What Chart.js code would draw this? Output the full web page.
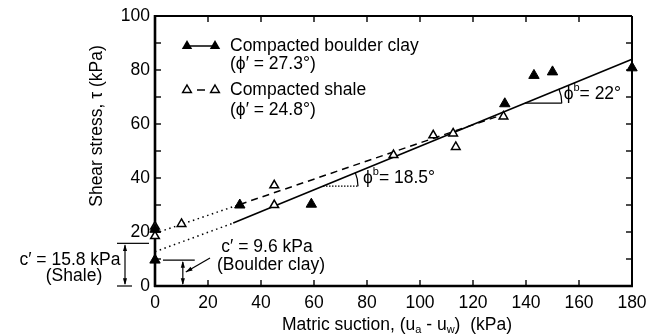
<!DOCTYPE html>
<html>
<head>
<meta charset="utf-8">
<script src="https://cdn.jsdelivr.net/npm/chart.js@4.4.1/dist/chart.umd.min.js"></script>
<style>
  html, body { margin: 0; padding: 0; background: #fff; }
</style>
</head>
<body>
<canvas id="shear-chart" width="662" height="336"></canvas>
<script>
const boulderSuction = [0, 0, 32, 59, 132, 143, 150, 180];
const boulderStress  = [9.6, 21, 30, 30.3, 67.5, 78, 79.3, 80.8];
const shaleSuction = [0, 0, 10, 45, 45, 90, 105, 112.5, 113.5, 131.5];
const shaleStress  = [18.5, 22, 23, 37.3, 30, 48.5, 55.8, 56.5, 51.5, 62.8];

// failure envelopes: first segment is the dotted extension to the axis
const boulderFitSuction = [0, 29.5, 180];
const boulderFitStress  = [12.7, 23.3, 84];
const shaleFitSuction = [0, 32, 131];
const shaleFitStress  = [19.5, 30.2, 63.4];

const xTicks = [0, 20, 40, 60, 80, 100, 120, 140, 160, 180];
const yTicks = [0, 20, 40, 60, 80, 100];
const yMinorTicks = [10, 30, 50, 70, 90];

const FONT = "'Liberation Sans', Arial, sans-serif";
const PHI = '\u03D5';
const toXY = (xs, ys) => xs.map((x, i) => ({ x: x, y: ys[i] }));

function richText(ctx, parts, x, y, align) {
  let total = 0;
  parts.forEach(p => {
    ctx.font = (p.s ? 11 : 17.5) + 'px ' + FONT;
    p.w = ctx.measureText(p.t).width;
    total += p.w;
  });
  let cx = align === 'center' ? x - total / 2 : x;
  ctx.textAlign = 'left';
  ctx.textBaseline = 'middle';
  parts.forEach(p => {
    ctx.font = (p.s ? 11 : 17.5) + 'px ' + FONT;
    const dy = p.s === 'sup' ? -6 : (p.s === 'sub' ? 5 : 0);
    ctx.fillText(p.t, cx, y + dy);
    cx += p.w;
  });
}

function arrowHead(ctx, x, y, ang) {
  const len = 7, spread = 0.3;
  ctx.beginPath();
  ctx.moveTo(x, y);
  ctx.lineTo(x - len * Math.cos(ang - spread), y - len * Math.sin(ang - spread));
  ctx.lineTo(x - len * Math.cos(ang + spread), y - len * Math.sin(ang + spread));
  ctx.closePath();
  ctx.fill();
}

function triangle(ctx, x, y, r, filled) {
  ctx.beginPath();
  ctx.moveTo(x, y - r);
  ctx.lineTo(x + r * 0.866, y + r * 0.5);
  ctx.lineTo(x - r * 0.866, y + r * 0.5);
  ctx.closePath();
  if (filled) ctx.fill();
  else { ctx.fillStyle = '#fff'; ctx.fill(); ctx.fillStyle = '#000'; ctx.stroke(); }
}

function line(ctx, x1, y1, x2, y2) {
  ctx.beginPath();
  ctx.moveTo(x1, y1);
  ctx.lineTo(x2, y2);
  ctx.stroke();
}

// y on the boulder clay envelope at a given suction
function boulderAt(v) {
  const i = v < boulderFitSuction[1] ? 0 : 1;
  const x0 = boulderFitSuction[i], x1 = boulderFitSuction[i + 1];
  const y0 = boulderFitStress[i], y1 = boulderFitStress[i + 1];
  return y0 + (v - x0) * (y1 - y0) / (x1 - x0);
}

const framePlugin = {
  id: 'frame',
  beforeDatasetsDraw(chart) {
    const ctx = chart.ctx;
    const { left, right, top, bottom } = chart.chartArea;
    const xs = chart.scales.x, ys = chart.scales.y;
    ctx.save();
    ctx.strokeStyle = '#000';
    ctx.lineWidth = 2;
    line(ctx, left, top, right, top);
    line(ctx, right, top, right, bottom);
    ctx.lineWidth = 2.6;
    line(ctx, left, top - 1, left, bottom + 1);
    line(ctx, left - 1, bottom, right + 1, bottom);
    ctx.lineWidth = 1.4;
    yTicks.concat(yMinorTicks).forEach(v => {
      const py = ys.getPixelForValue(v);
      line(ctx, left, py, left + 6, py);
      line(ctx, right, py, right - 6, py);
    });
    xTicks.forEach(v => {
      const px = xs.getPixelForValue(v);
      line(ctx, px, bottom, px, bottom - 6);
      line(ctx, px, top, px, top + 6);
    });
    ctx.restore();
  },
  afterDraw(chart) {
    const ctx = chart.ctx;
    const { left, top } = chart.chartArea;
    const xs = chart.scales.x, ys = chart.scales.y;
    const X = v => xs.getPixelForValue(v), Y = v => ys.getPixelForValue(v);
    ctx.save();
    ctx.fillStyle = '#000';
    ctx.strokeStyle = '#000';

    // axis titles
    ctx.save();
    ctx.translate(97, 126);
    ctx.rotate(-Math.PI / 2);
    ctx.font = '17.5px ' + FONT;
    ctx.textAlign = 'center';
    ctx.textBaseline = 'middle';
    ctx.fillText('Shear stress, \u03C4 (kPa)', 0, 0);
    ctx.restore();
    richText(ctx, [{ t: 'Matric suction, (u' }, { t: 'a', s: 'sub' }, { t: ' - u' }, { t: 'w', s: 'sub' }, { t: ')  (kPa)' }], 397, 325, 'center');

    // legend
    ctx.lineWidth = 1.5;
    const lx = left + 32, ly = top + 30;
    line(ctx, lx, ly, lx + 28, ly);
    triangle(ctx, lx, ly, 6, true);
    triangle(ctx, lx + 28, ly, 6, true);
    line(ctx, lx + 10, ly + 44, lx + 18, ly + 44);
    triangle(ctx, lx, ly + 44, 5, false);
    triangle(ctx, lx + 28, ly + 44, 5, false);
    richText(ctx, [{ t: 'Compacted boulder clay' }], lx + 43, ly, 'left');
    richText(ctx, [{ t: '(' + PHI + '\u2032 = 27.3\u00B0)' }], lx + 43, ly + 18, 'left');
    richText(ctx, [{ t: 'Compacted shale' }], lx + 43, ly + 44, 'left');
    richText(ctx, [{ t: '(' + PHI + '\u2032 = 24.8\u00B0)' }], lx + 43, ly + 64, 'left');

    // phi_b angle marks
    ctx.lineWidth = 1.2;
    const a1x = 63.4, a1y = boulderAt(63.4);
    ctx.setLineDash([1.5, 1.5]);
    line(ctx, X(a1x), Y(a1y), X(76.6), Y(a1y));
    ctx.setLineDash([]);
    ctx.beginPath();
    ctx.arc(X(a1x), Y(a1y), X(76.6) - X(a1x), -0.4, 0);
    ctx.stroke();
    richText(ctx, [{ t: PHI }, { t: 'b', s: 'sup' }, { t: '= 18.5\u00B0' }], X(78.5), Y(a1y) - 8, 'left');

    const a2x = 139.6, a2y = boulderAt(139.6);
    line(ctx, X(a2x), Y(a2y), X(153.5), Y(a2y));
    ctx.beginPath();
    ctx.arc(X(a2x), Y(a2y), X(153.5) - X(a2x), -0.4, 0);
    ctx.stroke();
    richText(ctx, [{ t: PHI }, { t: 'b', s: 'sup' }, { t: '= 22\u00B0' }], X(154.2), Y(a2y) - 9, 'left');

    // c' for shale, left of the axis
    ctx.lineWidth = 1.2;
    const y0 = Y(0), yS = Y(15.8), yB = Y(9.6);
    line(ctx, left - 38, yS, left - 6, yS);
    line(ctx, left - 38, y0, left - 23, y0);
    line(ctx, left - 30, yS + 2, left - 30, y0 - 2);
    arrowHead(ctx, left - 30, yS + 1, -Math.PI / 2);
    arrowHead(ctx, left - 30, y0 - 1, Math.PI / 2);
    richText(ctx, [{ t: 'c\u2032 = 15.8 kPa' }], 70, 260, 'center');
    richText(ctx, [{ t: '(Shale)' }], 74, 276, 'center');

    // c' for boulder clay
    line(ctx, X(3), yB, X(15), yB);
    line(ctx, X(10.5), yB + 2, X(10.5), y0 - 2);
    arrowHead(ctx, X(10.5), yB + 1, -Math.PI / 2);
    arrowHead(ctx, X(10.5), y0 - 1, Math.PI / 2);
    const ax1 = 210, ay1 = 258, ax2 = X(10.5) + 3, ay2 = 272;
    line(ctx, ax1, ay1, ax2, ay2);
    arrowHead(ctx, ax2, ay2, Math.atan2(ay2 - ay1, ax2 - ax1));
    richText(ctx, [{ t: 'c\u2032 = 9.6 kPa' }], 267, 247, 'center');
    richText(ctx, [{ t: '(Boulder clay)' }], 271, 265, 'center');
    ctx.restore();
  }
};

Chart.defaults.font.family = FONT;
Chart.defaults.font.size = 17.5;
Chart.defaults.color = '#000';

const ctx = document.getElementById('shear-chart').getContext('2d');
new Chart(ctx, {
  type: 'scatter',
  data: {
    datasets: [{
      label: 'Compacted boulder clay',
      data: toXY(boulderSuction, boulderStress),
      pointStyle: 'triangle',
      pointRadius: 6,
      backgroundColor: '#000',
      borderColor: '#000',
      borderWidth: 1
    }, {
      label: 'Compacted shale',
      data: toXY(shaleSuction, shaleStress),
      pointStyle: 'triangle',
      pointRadius: 5,
      backgroundColor: '#fff',
      borderColor: '#000',
      borderWidth: 1.5
    }, {
      label: 'Boulder clay envelope',
      data: toXY(boulderFitSuction, boulderFitStress).slice(1),
      showLine: true,
      pointRadius: 0,
      borderColor: '#000',
      borderWidth: 1.6
    }, {
      label: 'Boulder clay extension',
      data: toXY(boulderFitSuction, boulderFitStress).slice(0, 2),
      showLine: true,
      pointRadius: 0,
      borderColor: '#000',
      borderWidth: 1.5,
      borderDash: [1.5, 3.5]
    }, {
      label: 'Shale envelope',
      data: toXY(shaleFitSuction, shaleFitStress).slice(1),
      showLine: true,
      pointRadius: 0,
      borderColor: '#000',
      borderWidth: 1.5,
      borderDash: [7, 5]
    }, {
      label: 'Shale extension',
      data: toXY(shaleFitSuction, shaleFitStress).slice(0, 2),
      showLine: true,
      pointRadius: 0,
      borderColor: '#000',
      borderWidth: 1.5,
      borderDash: [1.5, 3.5]
    }]
  },
  options: {
    responsive: false,
    animation: false,
    clip: false,
    layout: { padding: { top: 16, right: 30, left: 0, bottom: 0 } },
    plugins: {
      legend: { display: false },
      tooltip: { enabled: false }
    },
    scales: {
      x: {
        type: 'linear',
        min: 0,
        max: 180,
        afterFit: s => { s.height = 50; },
        afterBuildTicks: s => { s.ticks = xTicks.map(v => ({ value: v })); },
        grid: { display: false, drawTicks: false },
        border: { display: false },
        ticks: { padding: 7, maxRotation: 0 }
      },
      y: {
        type: 'linear',
        min: 0,
        max: 100,
        afterFit: s => { s.width = 155; },
        afterBuildTicks: s => { s.ticks = yTicks.map(v => ({ value: v })); },
        grid: { display: false, drawTicks: false },
        border: { display: false },
        ticks: { padding: 5 }
      }
    }
  },
  plugins: [framePlugin]
});
</script>
</body>
</html>
